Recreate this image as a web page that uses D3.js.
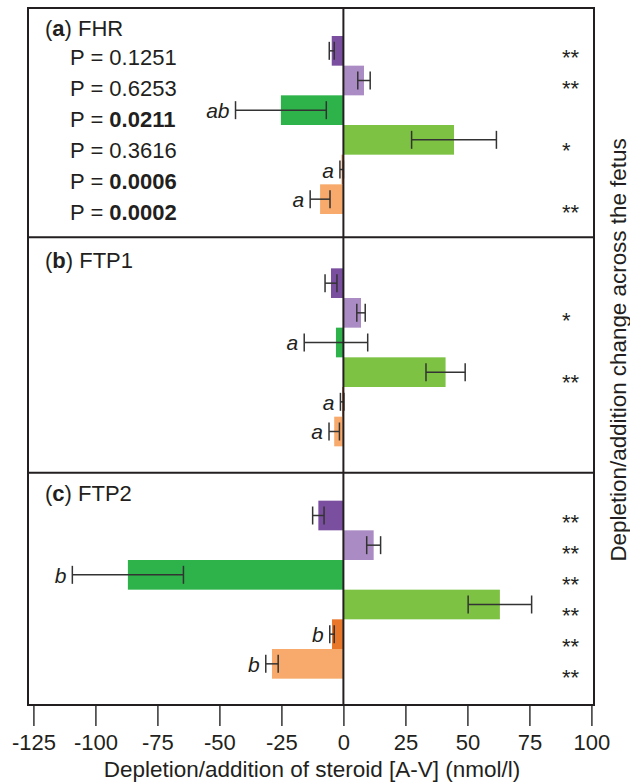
<!DOCTYPE html>
<html>
<head>
<meta charset="utf-8">
<script src="https://cdn.jsdelivr.net/npm/d3@7"></script>
<style>
  body { margin: 0; background: #fff; }
  text { font-family: "Liberation Sans", Arial, sans-serif; fill: #231f20; }
</style>
</head>
<body>
<div id="chart"></div>
<script>
// values (nmol/l), six steroids per panel, top to bottom
let panelNames = ["FHR", "FTP1", "FTP2"];
let panelLetters = ["a", "b", "c"];
let rows = ["r1", "r2", "r3", "r4", "r5", "r6"];
let rowColors = ["#7b4fa0", "#ab8bc3", "#2db34a", "#7dc242", "#e8772a", "#f7aa6b"];

let fhrMeans = [-4.7, 8.3, -25.2, 44.6, -0.7, -9.4];
let fhrErrors = [1.0, 2.5, 18.3, 17.1, 0.7, 4.0];
let ftp1Means = [-5.0, 7.1, -3.0, 41.2, -0.5, -3.7];
let ftp1Errors = [2.4, 1.7, 12.8, 7.9, 0.7, 2.1];
let ftp2Means = [-10.1, 12.2, -86.9, 63.1, -4.6, -28.8];
let ftp2Errors = [2.3, 2.8, 22.4, 12.8, 0.9, 2.5];

let fhrLetters = ["", "", "ab", "", "a", "a"];
let ftp1Letters = ["", "", "a", "", "a", "a"];
let ftp2Letters = ["", "", "b", "", "b", "b"];

let fhrStars = ["**", "**", "", "*", "", "**"];
let ftp1Stars = ["", "*", "", "**", "", ""];
let ftp2Stars = ["**", "**", "**", "**", "**", "**"];

let pValues = ["0.1251", "0.6253", "0.0211", "0.3616", "0.0006", "0.0002"];
let pBold = [false, false, true, false, true, true];

let xTicks = [-125, -100, -75, -50, -25, 0, 25, 50, 75, 100];

let width = 630;
let height = 784;

let frameLeft = 28, frameRight = 594, frameTop = 8, frameBottom = 705;

let svg = d3.select("#chart")
            .append("svg")
            .attr("width", width)
            .attr("height", height);

let xScale = d3.scaleLinear()
            .domain([-125, 100])
            .range([33.4, 591.4]);

let panelScale = d3.scaleBand()
            .domain(panelLetters)
            .range([frameTop, frameBottom]);

let rowScale = d3.scaleBand()
            .domain(rows)
            .range([28, 206]);

// stars and p-values sit on a slightly wider spacing than the bars
let noteScale = d3.scalePoint()
            .domain(rows)
            .range([57, 57 + 31 * 5]);

let panelData = [
    {means: fhrMeans, errors: fhrErrors, letters: fhrLetters, stars: fhrStars},
    {means: ftp1Means, errors: ftp1Errors, letters: ftp1Letters, stars: ftp1Stars},
    {means: ftp2Means, errors: ftp2Errors, letters: ftp2Letters, stars: ftp2Stars}
];

panelLetters.forEach(function(letter, p){
    let top = panelScale(letter);
    let g = svg.append("g").attr("transform", `translate(0, ${top})`);
    let d = panelData[p];

    let bars = rows.map(function(r, i){
        return {row: r, mean: d.means[i], err: d.errors[i], letter: d.letters[i], stars: d.stars[i], color: rowColors[i]};
    });

    g.selectAll("rect.bar").data(bars).enter()
        .append("rect")
        .attr("class", "bar")
        .attr("x", function(b){ return xScale(Math.min(0, b.mean)) })
        .attr("y", function(b){ return rowScale(b.row) })
        .attr("width", function(b){ return Math.abs(xScale(b.mean) - xScale(0)) })
        .attr("height", rowScale.bandwidth())
        .attr("fill", function(b){ return b.color });

    let capH = 9;
    let eb = g.selectAll("g.err").data(bars).enter().append("g").attr("class", "err")
        .attr("stroke", "#333").attr("stroke-width", 1.5);

    eb.append("line")
        .attr("x1", function(b){ return xScale(b.mean - b.err) })
        .attr("x2", function(b){ return xScale(b.mean + b.err) })
        .attr("y1", function(b){ return rowScale(b.row) + rowScale.bandwidth() / 2 })
        .attr("y2", function(b){ return rowScale(b.row) + rowScale.bandwidth() / 2 });

    [-1, 1].forEach(function(s){
        eb.append("line")
            .attr("x1", function(b){ return xScale(b.mean + s * b.err) })
            .attr("x2", function(b){ return xScale(b.mean + s * b.err) })
            .attr("y1", function(b){ return rowScale(b.row) + rowScale.bandwidth() / 2 - capH })
            .attr("y2", function(b){ return rowScale(b.row) + rowScale.bandwidth() / 2 + capH });
    });

    g.selectAll("text.sig").data(bars.filter(function(b){ return b.letter })).enter()
        .append("text")
        .attr("class", "sig")
        .attr("x", function(b){ return xScale(b.mean - b.err) - 6 })
        .attr("y", function(b){ return rowScale(b.row) + rowScale.bandwidth() / 2 + 8 })
        .attr("text-anchor", "end")
        .attr("font-size", 21)
        .attr("font-style", "italic")
        .text(function(b){ return b.letter });

    g.selectAll("text.star").data(bars.filter(function(b){ return b.stars })).enter()
        .append("text")
        .attr("class", "star")
        .attr("x", 562)
        .attr("y", function(b){ return noteScale(b.row) })
        .attr("font-size", 22)
        .text(function(b){ return b.stars });

    let lbl = g.append("text")
        .attr("x", 45)
        .attr("y", 28)
        .attr("font-size", 22);
    lbl.append("tspan").text("(");
    lbl.append("tspan").attr("font-weight", "bold").text(letter);
    lbl.append("tspan").text(") " + panelNames[p]);

    if(p === 0){
        rows.forEach(function(r, i){
            let t = g.append("text")
                .attr("x", 70)
                .attr("y", noteScale(r))
                .attr("font-size", 22);
            t.append("tspan").text("P = ");
            t.append("tspan").attr("font-weight", pBold[i] ? "bold" : "normal").text(pValues[i]);
        });
    }
});

// panel dividers
svg.selectAll("line.divider").data(panelLetters.slice(1)).enter()
    .append("line")
    .attr("x1", frameLeft).attr("x2", frameRight)
    .attr("y1", function(l){ return panelScale(l) - (l === "b" ? 3 : 0) })
    .attr("y2", function(l){ return panelScale(l) - (l === "b" ? 3 : 0) })
    .attr("stroke", "#231f20").attr("stroke-width", 2);

// zero line
svg.append("line")
    .attr("x1", xScale(0)).attr("x2", xScale(0))
    .attr("y1", frameTop).attr("y2", frameBottom)
    .attr("stroke", "#231f20").attr("stroke-width", 2);

// frame
svg.append("rect")
    .attr("x", frameLeft).attr("y", frameTop)
    .attr("width", frameRight - frameLeft).attr("height", frameBottom - frameTop)
    .attr("fill", "none")
    .attr("stroke", "#231f20").attr("stroke-width", 2);

// x axis hangs under the frame
let xAxis = d3.axisBottom(xScale)
    .tickValues(xTicks)
    .tickSize(20)
    .tickPadding(8)
    .tickFormat(d3.format("d"));

let ax = svg.append("g")
    .attr("class", "xAxis")
    .attr("transform", `translate(0, ${frameBottom + 1})`)
    .call(xAxis);

ax.select(".domain").remove();
ax.selectAll(".tick line").attr("stroke", "#333").attr("stroke-width", 1.5);
ax.selectAll(".tick text")
    .attr("font-size", 22)
    .attr("font-family", "Liberation Sans, Arial, sans-serif")
    .attr("fill", "#231f20")
    .text(function(d){ return d < 0 ? "-" + Math.abs(d) : d });

svg.append("text")
    .attr("x", 312)
    .attr("y", 777)
    .attr("text-anchor", "middle")
    .attr("font-size", 22.5)
    .text("Depletion/addition of steroid [A-V] (nmol/l)");

svg.append("text")
    .attr("transform", `translate(626, 350) rotate(-90)`)
    .attr("text-anchor", "middle")
    .attr("font-size", 22.4)
    .text("Depletion/addition change across the fetus");
</script>
</body>
</html>
